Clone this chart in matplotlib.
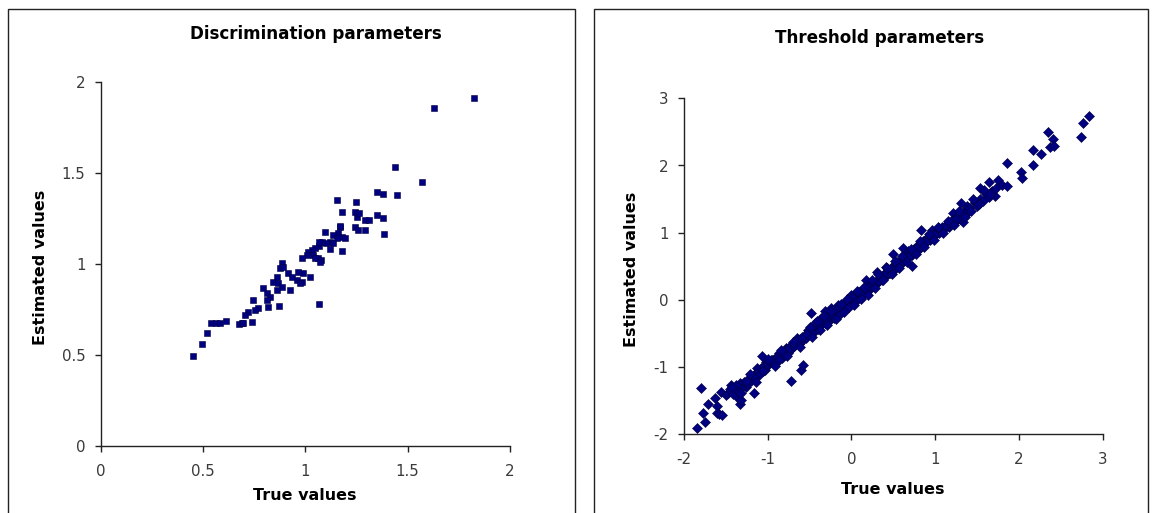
import matplotlib
matplotlib.use("Agg")
import matplotlib.pyplot as plt
from matplotlib.patches import Rectangle
from matplotlib.ticker import FuncFormatter

plt.rcParams["axes.unicode_minus"] = False
plt.rcParams["font.family"] = ["DejaVu Sans"]

# ---- Discrimination parameters: true vs estimated ----
disc_true = [
    0.452, 0.495, 0.519, 0.541, 0.562, 0.584, 0.611, 0.674, 0.693,
    1.154, 1.248, 1.349, 1.379, 1.447, 1.181, 1.243, 1.252, 1.264,
    1.292, 1.313, 1.349, 1.379, 1.243, 1.260, 1.292, 1.385,
    1.170, 1.162, 1.178, 1.194, 1.097, 1.137, 1.154, 1.121, 1.102,
    1.080, 1.069, 1.121, 1.178, 1.048, 1.032, 1.015, 1.007, 0.983,
    1.040, 1.064, 1.076, 1.048, 0.885, 0.877, 0.893,
    0.918, 0.934, 0.958, 0.983, 0.991, 0.966, 1.024, 0.975,
    0.861, 0.844, 0.869, 0.885, 0.861, 0.926,
    0.795, 0.812, 0.828, 0.812,
    0.746, 0.771, 0.755, 0.722, 0.706, 0.820, 0.874, 0.738, 0.697, 1.067,
    1.072, 1.067, 1.136, 1.172,
    1.439, 1.570, 1.629, 1.826,
]
disc_est = [
    0.494, 0.560, 0.622, 0.677, 0.677, 0.677, 0.688, 0.670, 0.677,
    1.352, 1.342, 1.397, 1.385, 1.379, 1.287, 1.287, 1.260, 1.278,
    1.242, 1.242, 1.269, 1.251, 1.205, 1.187, 1.187, 1.163,
    1.205, 1.169, 1.150, 1.141, 1.178, 1.159, 1.141, 1.123, 1.117,
    1.123, 1.099, 1.081, 1.073, 1.086, 1.077, 1.068, 1.049, 1.031,
    1.049, 1.031, 1.022, 1.031, 1.004, 0.976, 0.985,
    0.949, 0.930, 0.912, 0.903, 0.949, 0.958, 0.930, 0.894,
    0.930, 0.903, 0.894, 0.875, 0.857, 0.857,
    0.866, 0.839, 0.820, 0.802,
    0.802, 0.757, 0.747, 0.738, 0.720, 0.765, 0.769, 0.683, 0.674, 0.780,
    1.012, 1.122, 1.113, 1.208,
    1.533, 1.451, 1.859, 1.914,
]

# ---- Threshold parameters: true vs estimated ----
thr_true = [
    -1.846, -1.80, -1.77, -1.75, -1.71, -1.63, -1.61, -1.61, -1.56, -1.58,
    -1.55, -1.44, -1.41, -1.36, -1.37, -1.33, -1.32, -1.26, -1.24, -1.17,
    -1.18, -1.13, -1.07, -1.05, -1.02, -0.98, -0.92, -0.87, -0.83, -0.78,
    -0.727, -0.70, -0.65, -0.60, -0.58, -0.55, -0.48, -0.52, -0.43, -0.36,
    -0.32, -0.25, -0.16, -0.07, -0.01, 0.08, 0.17, 0.23, 0.30, 0.41,
    0.50, 0.54, 0.61, 0.67, 0.72, 0.76, 0.83, 0.89, 0.96, 1.05,
    1.16, 1.21, 1.29, 1.33, 1.31, 1.38, 1.47, 1.53, 1.60, 1.64,
    1.67, 1.71, 1.75, 1.80, 1.86, 1.86, 2.02, 2.04, 2.17, 2.17,
    2.26, 2.35, 2.37, 2.41, 2.42, 2.74, 2.77, 2.84,
    -1.50, -1.47, -1.45, -1.42, -1.39, -1.35, -1.33, -1.30, -1.28, -1.25,
    -1.22, -1.20, -1.17, -1.15, -1.12, -1.10, -1.08, -1.05, -1.03, -1.00,
    -0.97, -0.95, -0.93, -0.90, -0.88, -0.85, -0.83, -0.80, -0.78, -0.76,
    -0.73, -0.71, -0.68, -0.66, -0.63, -0.61, -0.58, -0.56, -0.54, -0.51,
    -0.49, -0.46, -0.44, -0.42, -0.40, -0.38, -0.36, -0.34, -0.32, -0.30,
    -0.28, -0.26, -0.24, -0.22, -0.20, -0.18, -0.16, -0.14, -0.12, -0.10,
    -0.08, -0.06, -0.04, -0.02, 0.00, 0.02, 0.04, 0.06, 0.08, 0.10,
    0.12, 0.14, 0.16, 0.19, 0.21, 0.24, 0.26, 0.29, 0.31, 0.34,
    0.36, 0.39, 0.41, 0.44, 0.46, 0.49, 0.51, 0.54, 0.56, 0.59,
    0.62, 0.64, 0.67, 0.70, 0.72, 0.75, 0.78, 0.80, 0.83, 0.86,
    0.88, 0.91, 0.94, 0.96, 0.99, 1.02, 1.05, 1.08, 1.11, 1.14,
    1.17, 1.20, 1.23, 1.26, 1.30, 1.33, 1.36, 1.40, 1.43, 1.47,
    1.50, 1.54, 1.57, 1.61, 1.64, 1.68, 1.72,
    -0.45, -0.40, -0.35, -0.31, -0.27, -0.23, -0.21, -0.17, -0.15, -0.11,
    -0.07, -0.03, 0.01, 0.05, 0.09, 0.13, 0.18, 0.22, 0.27, 0.33,
    0.37, 0.43, 0.47, 0.53, 0.58, 0.63, 0.69, 0.74, 0.79, 0.85,
    0.90, 0.95, 1.00, 1.06, 1.12, 1.18, 1.25, 1.31,
    -1.38, -1.26, -1.16, -1.06, -0.96, -0.86, -0.81, -0.75, -0.69, -0.64,
    -0.59, -0.53,
    -0.50, -0.47, -0.41, -0.37, -0.33, -0.29, -0.25, -0.19, -0.13, -0.09,
    -0.05, 0.03, 0.07, 0.11, 0.15, 0.20, 0.25, 0.28, 0.32, 0.38,
    0.42, 0.48, 0.52, 0.57, 0.60, 0.66, 0.71, 0.77, 0.82, 0.87,
    0.92, 0.98, 1.03, 1.09, 1.15, 1.22, 1.28, 1.35, 1.45, 1.52,
    1.58, 1.66, -1.00, -0.91, -0.84, -0.77, -0.70, -0.62, -1.21, -1.14,
    -1.32, -1.43,
]
thr_est = [
    -1.90, -1.31, -1.68, -1.81, -1.55, -1.46, -1.58, -1.69, -1.37, -1.70,
    -1.71, -1.27, -1.37, -1.30, -1.44, -1.55, -1.49, -1.29, -1.19, -1.39,
    -1.14, -1.02, -0.83, -1.04, -0.92, -0.95, -0.88, -0.79, -0.85, -0.72,
    -1.21, -0.70, -0.56, -1.04, -0.97, -0.52, -0.20, -0.45, -0.35, -0.27,
    -0.17, -0.12, -0.08, -0.03, 0.07, 0.12, 0.30, 0.21, 0.41, 0.49,
    0.69, 0.57, 0.77, 0.73, 0.50, 0.77, 1.04, 0.90, 1.04, 1.07,
    1.09, 1.29, 1.24, 1.16, 1.44, 1.39, 1.46, 1.66, 1.61, 1.76,
    1.61, 1.54, 1.78, 1.71, 2.03, 1.69, 1.91, 1.81, 2.01, 2.23,
    2.17, 2.50, 2.28, 2.40, 2.29, 2.43, 2.63, 2.74,
    -1.42, -1.38, -1.33, -1.40, -1.31, -1.35, -1.24, -1.28, -1.22, -1.25,
    -1.17, -1.21, -1.12, -1.10, -1.08, -1.12, -1.02, -0.98, -1.05, -0.96,
    -0.93, -0.90, -0.96, -0.86, -0.84, -0.81, -0.86, -0.77, -0.75, -0.79,
    -0.69, -0.72, -0.65, -0.62, -0.66, -0.58, -0.60, -0.53, -0.57, -0.49,
    -0.51, -0.44, -0.47, -0.39, -0.43, -0.35, -0.38, -0.31, -0.35, -0.27,
    -0.31, -0.24, -0.28, -0.20, -0.24, -0.16, -0.20, -0.13, -0.17, -0.09,
    -0.12, -0.05, -0.08, -0.01, -0.04, 0.03, 0.00, 0.06, 0.03, 0.10,
    0.06, 0.14, 0.11, 0.19, 0.15, 0.23, 0.20, 0.28, 0.25, 0.33,
    0.30, 0.39, 0.35, 0.44, 0.40, 0.50, 0.46, 0.55, 0.51, 0.60,
    0.57, 0.65, 0.62, 0.70, 0.67, 0.76, 0.73, 0.82, 0.79, 0.87,
    0.84, 0.93, 0.89, 0.97, 0.95, 1.02, 1.00, 1.08, 1.05, 1.13,
    1.10, 1.19, 1.15, 1.24, 1.21, 1.31, 1.27, 1.37, 1.33, 1.44,
    1.40, 1.50, 1.47, 1.57, 1.53, 1.62, 1.66,
    -0.38, -0.36, -0.29, -0.30, -0.22, -0.21, -0.27, -0.13, -0.22, -0.13,
    -0.02, -0.10, 0.05, -0.02, 0.12, 0.09, 0.13, 0.21, 0.24, 0.28,
    0.36, 0.40, 0.47, 0.48, 0.56, 0.61, 0.66, 0.72, 0.78, 0.83,
    0.88, 0.93, 0.98, 1.04, 1.10, 1.14, 1.20, 1.27,
    -1.27, -1.20, -1.15, -1.06, -0.89, -0.89, -0.82, -0.71, -0.69, -0.60,
    -0.55, -0.50,
    -0.40, -0.55, -0.31, -0.45, -0.24, -0.37, -0.17, -0.28, -0.06, -0.18,
    0.02, -0.07, 0.13, 0.02, 0.19, 0.08, 0.29, 0.17, 0.38, 0.29,
    0.47, 0.39, 0.58, 0.48, 0.66, 0.57, 0.76, 0.68, 0.88, 0.78,
    0.98, 0.89, 1.08, 0.99, 1.18, 1.11, 1.33, 1.23, 1.50, 1.43,
    1.63, 1.57, -0.88, -0.99, -0.74, -0.84, -0.62, -0.70, -1.10, -1.22,
    -1.38, -1.30,
]

disc_ticks = [0, 0.5, 1, 1.5, 2]
thr_ticks = [-2, -1, 0, 1, 2, 3]

W, H = 1158, 513
fig = plt.figure(figsize=(W / 100, H / 100), dpi=100)
fig.patch.set_facecolor("white")


def fx(px):
    return px / W


def fy(py):
    return 1 - py / H


# panel frames (open at the bottom edge)
for x0, x1 in [(8, 575), (594, 1148)]:
    fig.patches.append(Rectangle((fx(x0), fy(H + 5)), fx(x1 - x0), (H + 5 - 9) / H,
                                 transform=fig.transFigure, fill=False,
                                 edgecolor="#222222", linewidth=1.0))

NAVY = "#000080"
TICK_COLOR = "#3a3a3a"
fmt = FuncFormatter(lambda v, p: f"{v:g}")


def style_axes(ax, ticks):
    ax.set_xlim(ticks[0], ticks[-1])
    ax.set_ylim(ticks[0], ticks[-1])
    ax.set_xticks(ticks)
    ax.set_yticks(ticks)
    ax.xaxis.set_major_formatter(fmt)
    ax.yaxis.set_major_formatter(fmt)
    for s in ("top", "right"):
        ax.spines[s].set_visible(False)
    for s in ("left", "bottom"):
        ax.spines[s].set_color("#222222")
        ax.spines[s].set_linewidth(1.0)
    ax.tick_params(direction="out", length=4, width=1.0, color="#222222",
                   labelcolor=TICK_COLOR, labelsize=10.8)
    ax.tick_params(axis="x", pad=9)
    ax.tick_params(axis="y", pad=7)
    ax.set_facecolor("white")


ax1 = fig.add_axes([fx(100.6), fy(446), fx(509.8 - 100.6), (446 - 82) / H])
ax1.scatter(disc_true, disc_est, marker="s", s=24, color=NAVY,
            edgecolors="#000040", linewidths=0.4, clip_on=False, zorder=3)
style_axes(ax1, disc_ticks)

ax2 = fig.add_axes([fx(684), fy(434.3), fx(1102.7 - 684), (434.3 - 98.3) / H])
ax2.scatter(thr_true, thr_est, marker="D", s=26, color=NAVY,
            edgecolors="#000040", linewidths=0.4, clip_on=False, zorder=3)
style_axes(ax2, thr_ticks)

title_kw = dict(fontsize=12.1, fontweight="bold", ha="center", va="center")
label_kw = dict(fontsize=11.5, fontweight="bold", ha="center", va="center")

fig.text(fx(316), fy(34), "Discrimination parameters", **title_kw)
fig.text(fx(880), fy(38), "Threshold parameters", **title_kw)
fig.text(fx(305), fy(496), "True values", **label_kw)
fig.text(fx(893), fy(489), "True values", **label_kw)
fig.text(fx(41), fy(267), "Estimated values", rotation=90, **label_kw)
fig.text(fx(632), fy(269), "Estimated values", rotation=90, **label_kw)

fig.savefig("out.png", dpi=100, facecolor="white")
